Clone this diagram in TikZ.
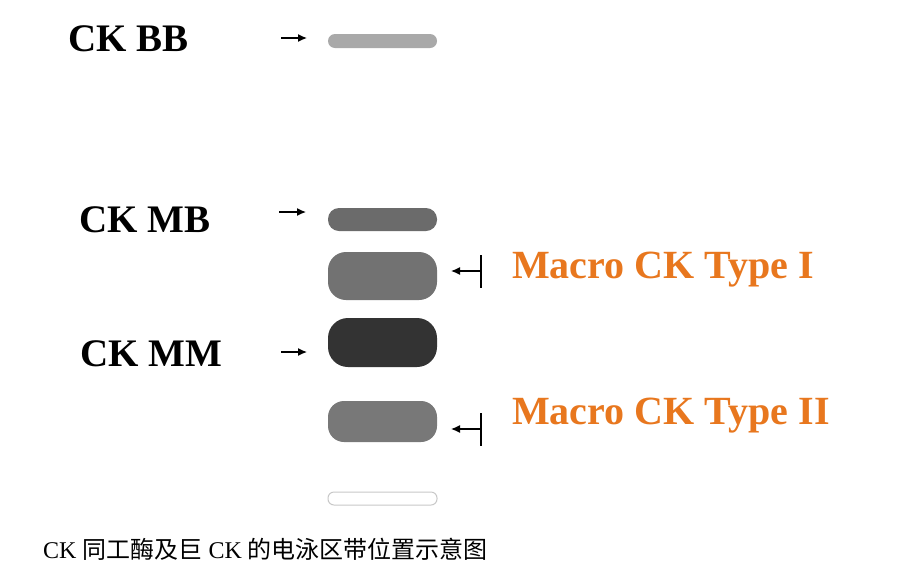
\documentclass[tikz,border=0pt]{standalone}
\usepackage{fontspec}
\setmainfont{Liberation Serif}
\newfontfamily\cjk{Noto Sans CJK SC}
\usetikzlibrary{arrows.meta}
\definecolor{bbgray}{HTML}{A9A9A9}
\definecolor{mbgray}{HTML}{6B6B6B}
\definecolor{tonegray}{HTML}{727272}
\definecolor{mmgray}{HTML}{333333}
\definecolor{ttwogray}{HTML}{787878}
\definecolor{edgegray}{HTML}{C8C8C8}
\definecolor{macroorange}{HTML}{E8771E}
\tikzset{
  band/.style={rectangle, inner sep=0pt, minimum width=109pt},
  lbl/.style={font=\fontsize{39}{41}\selectfont\bfseries, inner sep=0pt, anchor=base west},
  mlbl/.style={lbl, font=\fontsize{40}{42}\selectfont\bfseries, text=macroorange},
  arr/.style={line width=1.3pt, -{Latex[length=9pt,width=8pt]}},
  tick/.style={line width=1.2pt}
}
\begin{document}
\begin{tikzpicture}[x=1pt,y=-1pt]
\useasboundingbox[fill=white] (0,0) rectangle (907,574);
% bands
\node[band, minimum height=14pt, rounded corners=7pt, fill=bbgray] (bb) at (382.5,41) {};
\node[band, minimum height=23pt, rounded corners=11pt, fill=mbgray] (mb) at (382.5,219.5) {};
\node[band, minimum height=48pt, rounded corners=18pt, fill=tonegray] (t1) at (382.5,276) {};
\node[band, minimum height=49pt, rounded corners=20pt, fill=mmgray] (mm) at (382.5,342.5) {};
\node[band, minimum height=41pt, rounded corners=16pt, fill=ttwogray] (t2) at (382.5,421.5) {};
\node[band, minimum height=13pt, rounded corners=6pt, draw=edgegray, line width=1pt, fill=white] (wb) at (382.5,498.5) {};
% labels
\node[lbl] (lbb) at (68,51) {CK BB};
\node[lbl] (lmb) at (79,232) {CK MB};
\node[lbl] (lmm) at (80,366) {CK MM};
\node[mlbl] (lt1) at (512,278) {Macro CK Type I};
\node[mlbl] (lt2) at (512,424) {Macro CK Type II};
% arrows
\coordinate (abb1) at (281,38); \coordinate (abb2) at (307,38);
\coordinate (amb1) at (279,212); \coordinate (amb2) at (306,212);
\coordinate (amm1) at (281,352); \coordinate (amm2) at (307,352);
\draw[arr] (abb1) -- (abb2);
\draw[arr] (amb1) -- (amb2);
\draw[arr] (amm1) -- (amm2);
\coordinate (at1s) at (480,271); \coordinate (at1e) at (451,271);
\coordinate (at1a) at (481,255); \coordinate (at1b) at (481,288);
\draw[arr] (at1s) -- (at1e);
\draw[tick] (at1a) -- (at1b);
\coordinate (at2s) at (480,429); \coordinate (at2e) at (451,429);
\coordinate (at2a) at (481,413); \coordinate (at2b) at (481,446);
\draw[arr] (at2s) -- (at2e);
\draw[tick] (at2a) -- (at2b);
% caption
\node[anchor=base west, inner sep=0pt, font=\fontsize{24}{26}\selectfont] (cap) at (43,558) {CK {\cjk 同工酶及巨} CK {\cjk 的电泳区带位置示意图}};
\end{tikzpicture}
\end{document}
